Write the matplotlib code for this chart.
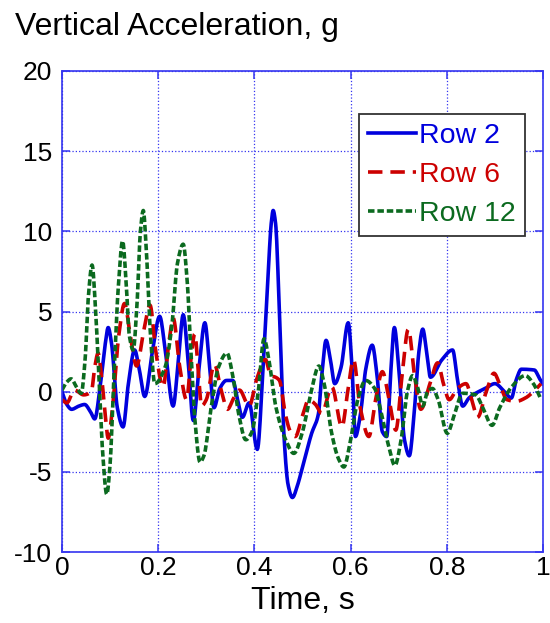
import matplotlib.pyplot as plt
import numpy as np

plt.rcParams['font.family'] = ['Liberation Sans', 'DejaVu Sans']
plt.rcParams['axes.unicode_minus'] = False

# Row 2 (blue, solid)
t_row2 = [0.000, 0.010, 0.020, 0.035, 0.047, 0.060, 0.068, 0.080, 0.090, 0.096,
          0.103, 0.115, 0.127, 0.138, 0.151, 0.160, 0.172, 0.188, 0.203, 0.215,
          0.231, 0.242, 0.252, 0.262, 0.273, 0.285, 0.297, 0.307, 0.316, 0.328,
          0.342, 0.355, 0.365, 0.375, 0.389, 0.406, 0.418, 0.428, 0.435, 0.439,
          0.444, 0.452, 0.462, 0.470, 0.479, 0.490, 0.500, 0.519, 0.533, 0.540,
          0.549, 0.558, 0.567, 0.580, 0.595, 0.603, 0.610, 0.620, 0.632, 0.645,
          0.655, 0.666, 0.675, 0.683, 0.691, 0.700, 0.712, 0.722, 0.733, 0.742,
          0.750, 0.758, 0.766, 0.790, 0.812, 0.822, 0.833, 0.846, 0.860, 0.880,
          0.900, 0.920, 0.934, 0.945, 0.955, 0.982, 0.993, 1.000]
a_row2 = [0.0, -0.8, -1.1, -0.9, -0.8, -1.3, -1.7, 0.5, 3.0, 4.0,
          3.0, -1.0, -2.2, 0.5, 2.6, 1.5, -0.3, 2.5, 4.7, 2.5,
          -0.9, 2.0, 4.8, 2.0, -1.8, 1.5, 4.3, 1.5, -1.0, 0.2,
          0.7, 0.7, -0.5, -1.6, -0.7, -3.6, 1.5, 7.0, 10.5, 11.3,
          10.5, 5.0, -3.0, -5.8, -6.6, -5.8, -4.7, -2.6, -1.4, 1.0,
          3.2, 2.0, 0.5, 1.5, 4.3, 1.5, -2.8, -1.5, 1.5, 2.9,
          1.0, -2.5, -2.8, 1.0, 4.0, 1.5, -3.0, -4.0, -1.0, 2.5,
          3.9, 2.5, 0.9, 2.0, 2.6, 0.8, -0.9, -0.4, -0.1, 0.2,
          0.5, 0.0, -0.4, 0.8, 1.4, 1.35, 0.8, 0.5]

# Row 6 (red, dashed)
t_row6 = [0.000, 0.010, 0.026, 0.045, 0.061, 0.068, 0.075, 0.082, 0.090, 0.096,
          0.105, 0.118, 0.130, 0.142, 0.155, 0.170, 0.183, 0.195, 0.210, 0.222,
          0.231, 0.245, 0.259, 0.268, 0.276, 0.284, 0.290, 0.300, 0.317, 0.330,
          0.344, 0.357, 0.369, 0.389, 0.405, 0.423, 0.434, 0.444, 0.452, 0.465,
          0.475, 0.485, 0.500, 0.513, 0.527, 0.540, 0.561, 0.582, 0.594, 0.606,
          0.620, 0.638, 0.652, 0.666, 0.680, 0.694, 0.707, 0.720, 0.733, 0.746,
          0.765, 0.781, 0.793, 0.805, 0.822, 0.840, 0.852, 0.864, 0.882, 0.898,
          0.912, 0.925, 0.945, 0.963, 0.980, 0.996]
a_row6 = [-0.5, -0.7, 0.1, -0.2, 0.0, 1.5, 2.4, 1.0, -1.5, -2.9,
          -1.0, 3.5, 5.5, 3.5, 1.6, 3.8, 5.4, 2.5, 0.3, 3.0,
          4.6, 1.5, -0.5, 2.0, 3.6, 1.0, -0.9, -0.5, 1.7, 0.2,
          -1.1, -0.4, 0.1, -0.9, 0.8, 2.0, 1.0, 0.9, 0.7, -1.5,
          -2.5, -2.8, -1.5, -0.5, -0.8, -1.35, 0.3, -2.2, 0.0, 2.0,
          -1.0, -2.8, -0.5, 1.25, -0.5, -2.4, 1.0, 3.9, 1.0, -1.1,
          0.5, 1.8, 0.5, -0.5, 0.2, 0.5, -0.5, -1.6, 0.0, 1.15,
          0.3, -0.5, -0.6, -0.4, 0.0, 0.5]

# Row 12 (green, dotted)
t_row12 = [0.000, 0.010, 0.019, 0.030, 0.040, 0.048, 0.055, 0.0625, 0.070, 0.078,
           0.085, 0.093, 0.100, 0.108, 0.117, 0.126, 0.133, 0.140, 0.148, 0.156,
           0.163, 0.169, 0.175, 0.183, 0.193, 0.214, 0.228, 0.240, 0.252, 0.260,
           0.268, 0.277, 0.287, 0.295, 0.310, 0.325, 0.343, 0.355, 0.368, 0.382,
           0.395, 0.408, 0.420, 0.430, 0.445, 0.465, 0.482, 0.500, 0.518, 0.534,
           0.545, 0.560, 0.575, 0.586, 0.600, 0.615, 0.631, 0.650, 0.665, 0.680,
           0.692, 0.705, 0.718, 0.729, 0.740, 0.750, 0.760, 0.770, 0.782, 0.801,
           0.815, 0.833, 0.860, 0.875, 0.894, 0.910, 0.935, 0.963, 0.980, 0.996]
a_row12 = [0.1, 0.6, 0.8, 0.3, -0.1, 2.0, 6.0, 7.9, 5.0, 0.0,
           -4.0, -6.4, -4.5, 1.0, 6.5, 9.4, 7.0, 3.5, 2.6, 5.5,
           10.0, 11.3, 9.0, 4.0, 0.5, 1.5, 4.0, 8.0, 9.2, 7.0,
           2.5, -2.0, -4.4, -4.0, -1.0, 1.5, 2.4, 1.0, -1.5, -3.0,
           -2.5, 0.0, 3.3, 2.0, -1.0, -3.0, -3.85, -2.5, 0.0, 1.6,
           0.5, -2.5, -4.2, -4.7, -3.0, -0.5, 0.7, 0.2, -1.5, -3.5,
           -4.6, -3.0, 0.0, 1.0, 0.2, -0.9, 0.0, 0.2, -0.5, -2.6,
           -1.5, -0.1, -0.2, -1.0, -2.1, -1.0, 0.3, 1.0, 0.5, -0.5]

x_ticks = [0, 0.2, 0.4, 0.6, 0.8, 1]
x_tick_labels = ['0', '0.2', '0.4', '0.6', '0.8', '1']
y_ticks = [-10, -5, 0, 5, 10, 15, 20]


# smooth drawing through the read points (monotone cubic, no overshoot)
def smooth(x, y, n=10):
    x = np.asarray(x, float)
    y = np.asarray(y, float)
    h = np.diff(x)
    d = np.diff(y) / h
    m = np.zeros_like(y)
    m[0], m[-1] = d[0], d[-1]
    for k in range(1, len(x) - 1):
        if d[k - 1] * d[k] > 0:
            w1 = 2 * h[k] + h[k - 1]
            w2 = h[k] + 2 * h[k - 1]
            m[k] = (w1 + w2) / (w1 / d[k - 1] + w2 / d[k])
    xs, ys = [], []
    s = np.linspace(0, 1, n, endpoint=False)
    for k in range(len(h)):
        h00 = 2 * s**3 - 3 * s**2 + 1
        h10 = s**3 - 2 * s**2 + s
        h01 = -2 * s**3 + 3 * s**2
        h11 = s**3 - s**2
        xs.append(x[k] + s * h[k])
        ys.append(h00 * y[k] + h10 * h[k] * m[k] + h01 * y[k + 1] + h11 * h[k] * m[k + 1])
    xs.append([x[-1]])
    ys.append([y[-1]])
    return np.concatenate(xs), np.concatenate(ys)


axis_blue = '#3535f0'

fig = plt.figure(figsize=(5.5, 6.23), dpi=100)
ax = fig.add_axes([62 / 550, 71 / 623, 481 / 550, 481 / 623])

ax.plot(*smooth(t_row2, a_row2), color='#0000dd', lw=2.6, label='Row 2')
ax.plot(*smooth(t_row6, a_row6), color='#cc0000', lw=2.6, dashes=(4.0, 2.2), label='Row 6')
ax.plot(*smooth(t_row12, a_row12), color='#0b6a1f', lw=2.6, dashes=(1.8, 0.8), label='Row 12')

ax.set_xlim(0, 1)
ax.set_ylim(-10, 20)
ax.set_xticks(x_ticks)
ax.set_xticklabels(x_tick_labels)
ax.set_yticks(y_ticks)
ax.grid(True, color=axis_blue, linestyle=':', linewidth=0.9)
for s in ax.spines.values():
    s.set_color(axis_blue)
    s.set_linewidth(1.2)
ax.tick_params(direction='in', length=6, width=1.1, color=axis_blue,
               labelsize=19, labelcolor='black', top=True, right=True)
ax.tick_params(axis='x', pad=3)
ax.tick_params(axis='y', pad=7)

ax.set_xlabel('Time, s', fontsize=23, labelpad=4)
fig.text(15 / 550, 1 - 35 / 623, 'Vertical Acceleration, g', fontsize=23,
         ha='left', va='baseline')

leg = ax.legend(loc='upper right', bbox_to_anchor=(0.962, 0.9106),
                borderaxespad=0, fontsize=20.5, handlelength=1.7,
                handletextpad=0.1, labelspacing=0.45, fancybox=False,
                framealpha=1, edgecolor='#333333', borderpad=0.32)
leg.get_frame().set_linewidth(1.3)
for txt, line in zip(leg.get_texts(), leg.get_lines()):
    txt.set_color(line.get_color())

fig.savefig('out.png', dpi=100)
